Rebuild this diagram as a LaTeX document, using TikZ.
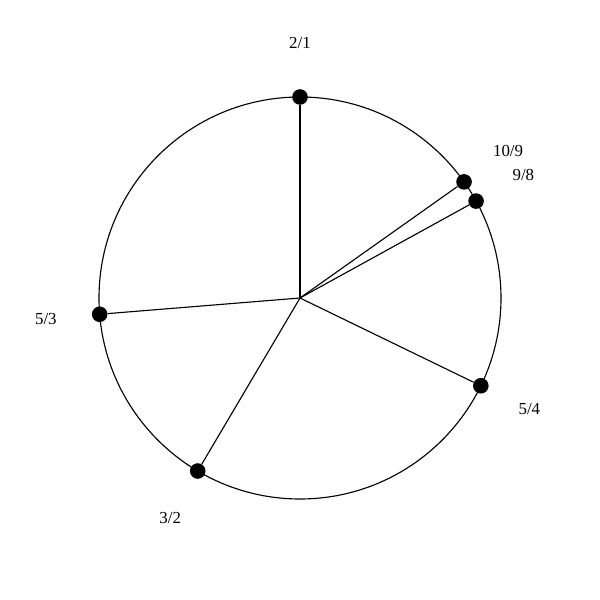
\documentclass[tikz,border=0pt]{standalone}
\usepackage{fontspec}
\setmainfont{Liberation Serif}

\begin{document}
\begin{tikzpicture}
\useasboundingbox (0,0) rectangle (15,15);
\begin{scope}[shift={(7.5,7.55)}]
    \coordinate (c) at (0,0);
    \draw[line width=0.8pt] (c) circle (5.025);
\end{scope}

\begin{scope}[shift={(7.5,7.55)},
              every node/.style={circle,fill=black,inner sep=0pt,minimum size=0.39cm}]
    \node (r21) at (90:5.025) {};
    \node (r109) at (35.3:5.025) {};
    \node (r98) at (28.83:5.025) {};
    \node (r54) at (-25.89:5.025) {};
    \node (r32) at (-120.59:5.025) {};
    \node (r53) at (-175.36:5.025) {};
\end{scope}

\begin{scope}[shift={(7.5,7.55)},
              every node/.style={font=\fontsize{12}{14}\selectfont}]
    \node (l21) at (90:6.375) {2/1};
    \node (l109) at (35.3:6.375) {10/9};
    \node (l98) at (28.83:6.375) {9/8};
    \node (l54) at (-25.89:6.375) {5/4};
    \node (l32) at (-120.59:6.375) {3/2};
    \node (l53) at (-175.36:6.375) {5/3};
\end{scope}

\begin{scope}[every path/.style={draw=black, line width=0.8pt}]
    \path (c) -- (r21);
    \path (c) -- (r109);
    \path (c) -- (r98);
    \path (c) -- (r54);
    \path (c) -- (r32);
    \path (c) -- (r53);
\end{scope}
\end{tikzpicture}
\end{document}
